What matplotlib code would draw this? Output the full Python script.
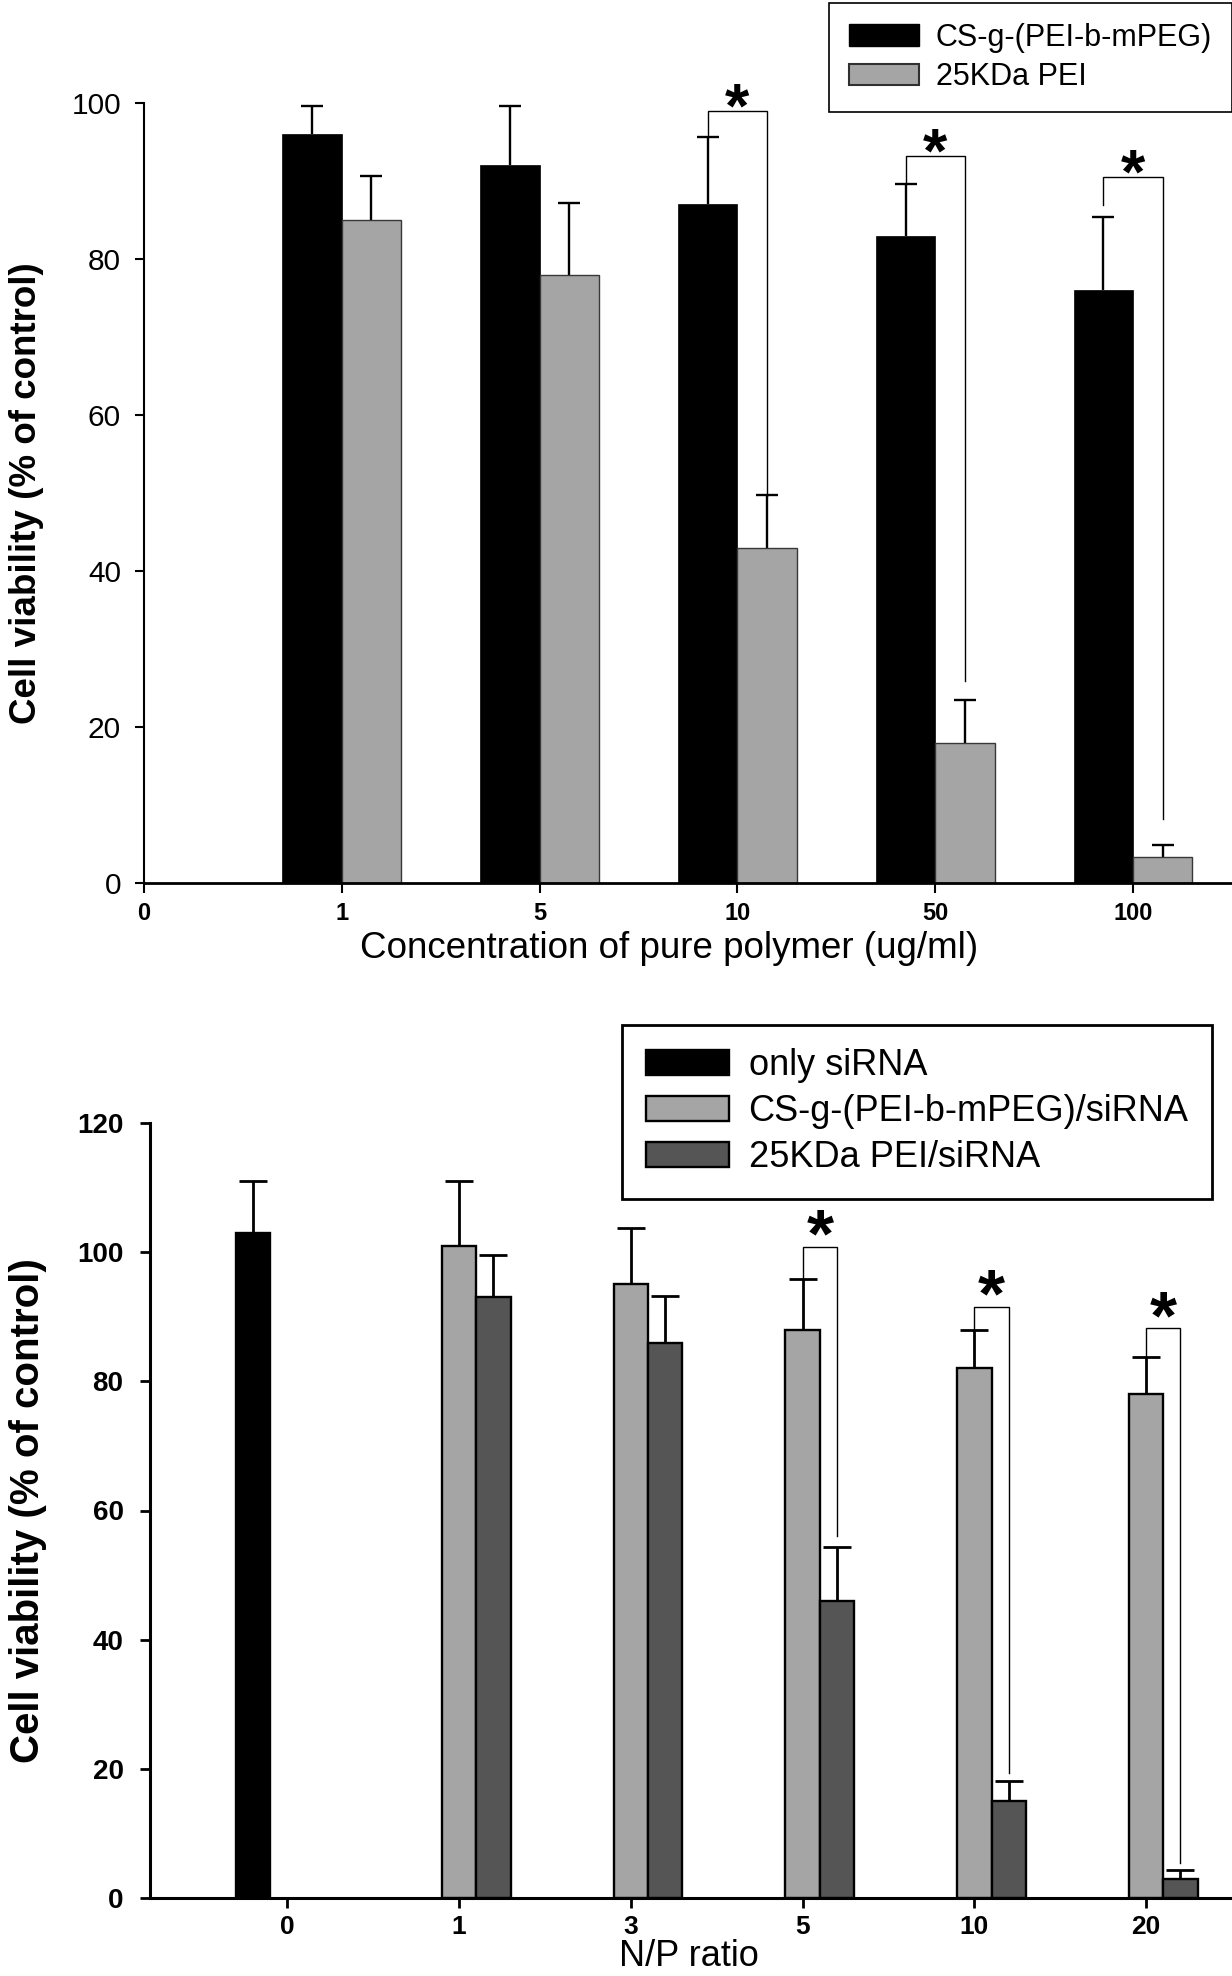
import numpy as np
import matplotlib
matplotlib.use('Agg')
import matplotlib.pyplot as plt
from matplotlib.patches import Patch

# ---- top panel: pure polymer cytotoxicity ----
conc_labels = ['0', '1', '5', '10', '50', '100']
polymer_mean = [96, 92, 87, 83, 76]
polymer_err = [3.6, 7.6, 8.7, 6.6, 9.4]
pei_mean = [85, 78, 43, 18, 3.3]
pei_err = [5.6, 9.2, 6.7, 5.4, 1.6]
# significance brackets: bar group, bracket height, left/right leg ends
sig_top_groups = [2, 3, 4]
sig_top_height = [99, 93.2, 90.5]
sig_top_left_end = [95.9, 89.6, 86.9]
sig_top_right_end = [49.6, 25.9, 8.2]

# ---- bottom panel: complexes at different N/P ratios ----
np_labels = ['0', '1', '3', '5', '10', '20']
sirna_mean = [103]
sirna_err = [8]
cs_mean = [101, 95, 88, 82, 78]
cs_err = [10, 8.7, 7.9, 5.9, 5.7]
pei_sirna_mean = [93, 86, 46, 15, 3]
pei_sirna_err = [6.5, 7.2, 8.3, 3.1, 1.4]
sig_bot_groups = [2, 3, 4]
sig_bot_height = [100.8, 91.5, 88.2]
sig_bot_left_end = [95.8, 87.9, 83.7]
sig_bot_right_end = [56.1, 19.4, 5.4]

GRAY = '#a5a5a5'
DARK = '#555555'

plt.rcParams['font.family'] = ['Liberation Sans', 'DejaVu Sans']

W, H = 1232, 1976
fig = plt.figure(figsize=(W / 100, H / 100), dpi=100)


def upper_errorbars(ax, x, mean, err, lw, capsize):
    eb = ax.errorbar(x, mean, yerr=[np.zeros(len(err)), err], fmt='none',
                     ecolor='black', elinewidth=lw, capsize=capsize,
                     capthick=lw, zorder=0.5)
    for cl in eb[1]:
        if np.allclose(cl.get_ydata(), mean):
            cl.set_visible(False)


def brackets(ax, x_left, x_right, height, left_end, right_end, star_size, star_off):
    for xl, xr, h, le, re_ in zip(x_left, x_right, height, left_end, right_end):
        ax.plot([xl, xl, xr, xr], [le, h, h, re_], color='black', lw=1.0,
                zorder=3, solid_joinstyle='miter')
        ax.annotate('*', xy=((xl + xr) / 2, h), xytext=(0, star_off),
                    textcoords='offset points', ha='center', va='baseline',
                    fontsize=star_size, fontweight='bold')


# ================= top panel =================
ax1 = fig.add_axes([144 / W, 1 - 883 / H, 1 - 144 / W, (883 - 103) / H])
grp = np.arange(1, len(conc_labels))
bw = 0.3
ax1.bar(grp - bw / 2, polymer_mean, bw, color='black', edgecolor='black',
        linewidth=0.5, zorder=1)
ax1.bar(grp + bw / 2, pei_mean, bw, color=GRAY, edgecolor='#383838',
        linewidth=1.0, zorder=1)
upper_errorbars(ax1, grp - bw / 2, polymer_mean, polymer_err, 1.7, 8)
upper_errorbars(ax1, grp + bw / 2, pei_mean, pei_err, 1.7, 8)

sg = np.array(sig_top_groups)
brackets(ax1, grp[sg] - bw / 2, grp[sg] + bw / 2, sig_top_height,
         sig_top_left_end, sig_top_right_end, 45, -11)

ax1.set_xlim(0, 5.5)
ax1.set_ylim(0, 100)
ax1.set_xticks(np.arange(len(conc_labels)))
ax1.set_xticklabels(conc_labels, fontweight='bold')
ax1.set_yticks(np.arange(0, 101, 20))
for s in ['top', 'right']:
    ax1.spines[s].set_visible(False)
ax1.spines['left'].set_linewidth(1.5)
ax1.spines['bottom'].set_linewidth(2.0)
ax1.tick_params(axis='y', direction='out', length=6.5, width=1.5, pad=10,
                labelsize=21.5)
ax1.tick_params(axis='x', direction='out', length=7, width=1.5, pad=7,
                labelsize=17)
ax1.set_xlabel('Concentration of pure polymer (ug/ml)', fontsize=26.5)
ax1.xaxis.set_label_coords(0.483, -0.062)
ax1.set_ylabel('Cell viability (% of control)', fontsize=26.5, fontweight='bold')
ax1.yaxis.set_label_coords(-0.092, 0.5)

leg1 = ax1.legend(
    handles=[Patch(facecolor='black', edgecolor='black'),
             Patch(facecolor=GRAY, edgecolor='#303030', linewidth=1.5)],
    labels=['CS-g-(PEI-b-mPEG)', '25KDa PEI'],
    loc='upper right', bbox_to_anchor=(1.0, 1 - 3 / H),
    bbox_transform=fig.transFigure, fontsize=22, fancybox=False,
    edgecolor='black', framealpha=1, borderpad=0.65, labelspacing=0.3,
    handlelength=2.3, handleheight=0.7, handletextpad=0.55, borderaxespad=0)
leg1.get_frame().set_linewidth(1.2)

# ================= bottom panel =================
ax2 = fig.add_axes([150 / W, 1 - 1898 / H, 1 - 150 / W, (1898 - 1123) / H])
bw2 = 0.2
ax2.bar([0 - bw2], sirna_mean, bw2, color='black', edgecolor='black',
        linewidth=1.7, zorder=1)
ax2.bar(grp, cs_mean, bw2, color=GRAY, edgecolor='black', linewidth=1.7,
        zorder=1)
ax2.bar(grp + bw2, pei_sirna_mean, bw2, color=DARK, edgecolor='black',
        linewidth=1.7, zorder=1)
upper_errorbars(ax2, [0 - bw2], sirna_mean, sirna_err, 2.0, 10)
upper_errorbars(ax2, grp, cs_mean, cs_err, 2.0, 10)
upper_errorbars(ax2, grp + bw2, pei_sirna_mean, pei_sirna_err, 2.0, 10)

sg2 = np.array(sig_bot_groups)
brackets(ax2, grp[sg2], grp[sg2] + bw2, sig_bot_height,
         sig_bot_left_end, sig_bot_right_end, 50, -7)

ax2.set_xlim(-0.8, 5.5)
ax2.set_ylim(0, 120)
ax2.set_xticks(np.arange(len(np_labels)))
ax2.set_xticklabels(np_labels, fontweight='bold')
ax2.set_yticks(np.arange(0, 121, 20))
for lbl in ax2.get_yticklabels():
    lbl.set_fontweight('bold')
for s in ['top', 'right']:
    ax2.spines[s].set_visible(False)
ax2.spines['left'].set_linewidth(2.2)
ax2.spines['bottom'].set_linewidth(2.2)
ax2.tick_params(axis='y', direction='out', length=7, width=2, pad=12,
                labelsize=20)
ax2.tick_params(axis='x', direction='out', length=7, width=2, pad=5,
                labelsize=19)
ax2.set_xlabel('N/P ratio', fontsize=26)
ax2.xaxis.set_label_coords(0.4977, -0.0535)
ax2.set_ylabel('Cell viability (% of control)', fontsize=29, fontweight='bold')
ax2.yaxis.set_label_coords(-0.095, 0.5)

leg2 = ax2.legend(
    handles=[Patch(facecolor='black', edgecolor='black', linewidth=1.7),
             Patch(facecolor=GRAY, edgecolor='black', linewidth=1.7),
             Patch(facecolor=DARK, edgecolor='black', linewidth=1.7)],
    labels=['only siRNA', 'CS-g-(PEI-b-mPEG)/siRNA', '25KDa PEI/siRNA'],
    loc='upper right', bbox_to_anchor=(1212 / W, 1 - 1025 / H),
    bbox_transform=fig.transFigure, fontsize=26, fancybox=False,
    edgecolor='black', framealpha=1, borderpad=0.65, labelspacing=0.3,
    handlelength=2.3, handleheight=0.68, handletextpad=0.55, borderaxespad=0)
leg2.get_frame().set_linewidth(2.0)

fig.savefig('out.png', dpi=100)
